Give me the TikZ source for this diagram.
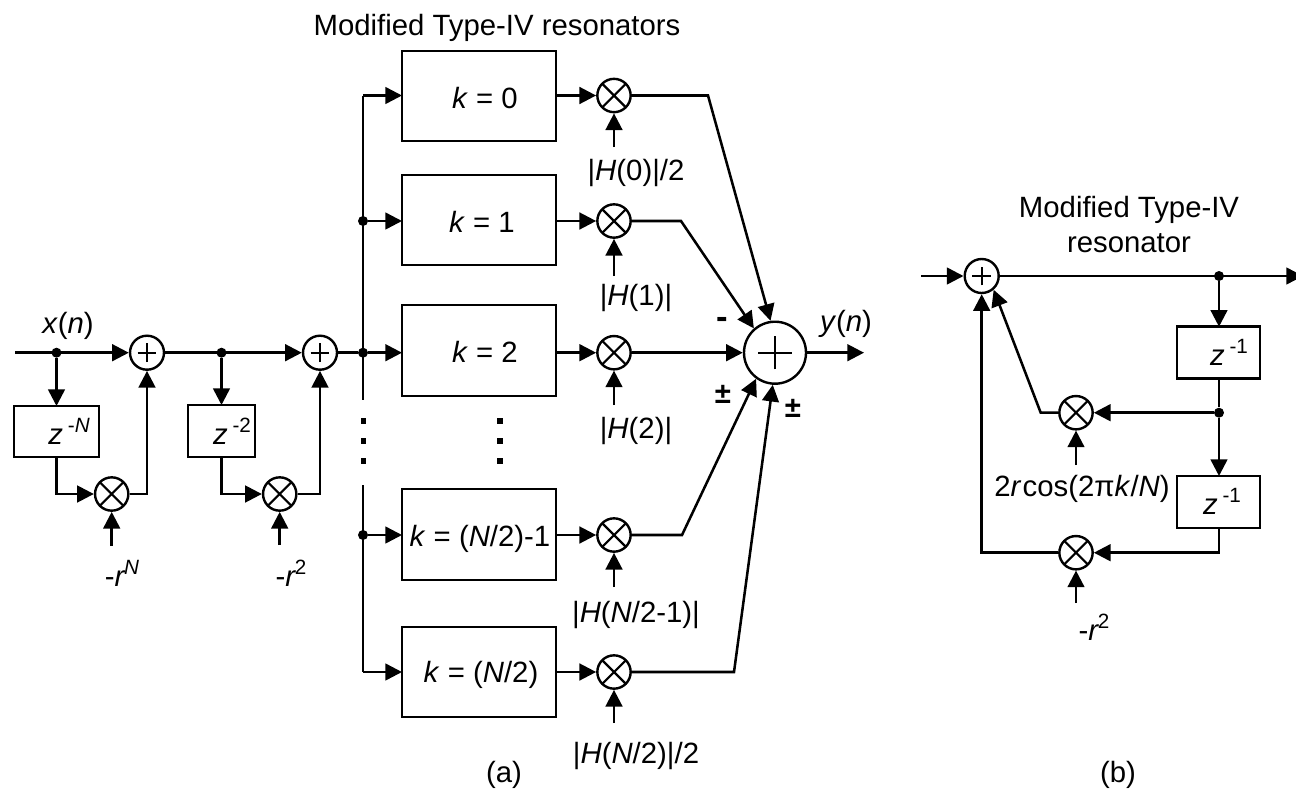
\documentclass[tikz,border=0pt]{standalone}
\usepackage{fontspec}
\setmainfont{Liberation Sans}
\usetikzlibrary{arrows.meta,calc}
\newcommand{\sups}[1]{\raisebox{8.6pt}{\fontsize{15.5}{16}\selectfont #1}}
\newcommand{\itt}[1]{\textit{#1}}
\tikzset{
  line/.style={line width=1.9pt,line join=miter},
  arr/.style={line,-{Triangle[length=12.5pt,width=12.5pt]}},
  blockbox/.style={draw,line width=1.85pt,rectangle,inner sep=0pt,outer sep=0pt},
  mult/.style={draw,line width=1.8pt,circle,minimum size=25pt,inner sep=0pt,
    path picture={\draw[line width=1.6pt]
      (path picture bounding box.south west)--(path picture bounding box.north east)
      (path picture bounding box.north west)--(path picture bounding box.south east);}},
  plusnode/.style={draw,line width=1.8pt,circle,minimum size=25.5pt,inner sep=0pt,
    path picture={\draw[line width=1.6pt]
      ([xshift=-7pt]path picture bounding box.center)--([xshift=7pt]path picture bounding box.center)
      ([yshift=-7pt]path picture bounding box.center)--([yshift=7pt]path picture bounding box.center);}},
  bigsum/.style={draw,line width=1.8pt,circle,minimum size=46.5pt,inner sep=0pt,
    path picture={\draw[line width=1.6pt]
      ([xshift=-12.5pt]path picture bounding box.center)--([xshift=12.5pt]path picture bounding box.center)
      ([yshift=-12.5pt]path picture bounding box.center)--([yshift=12.5pt]path picture bounding box.center);}},
  junction/.style={circle,fill=black,inner sep=0pt,minimum size=7.5pt},
  vdot/.style={rectangle,fill=black,inner sep=0pt,minimum size=3.8pt},
  txt/.style={anchor=base,inner sep=0pt,outer sep=0pt,font=\fontsize{22}{26}\selectfont},
}
\begin{document}
\begin{tikzpicture}[x=0.75pt,y=-0.75pt]
\clip (0,0) rectangle (1296,789);
\useasboundingbox (0,0) rectangle (1296,789);

% ---------- panel (a): input chain ----------
\coordinate (in) at (15,352.7);
\node[plusnode] (p1) at (147,352.7) {};
\node[plusnode] (p2) at (320,352.7) {};
\node[junction] (d1) at (56.5,352.7) {};
\node[junction] (d2) at (221.5,352.7) {};
\node[blockbox,minimum width=63.75pt,minimum height=38.25pt] (zn) at (56.5,431.5) {};
\node[blockbox,minimum width=50.25pt,minimum height=39pt] (z2) at (221.5,431) {};
\node[mult] (m1) at (111.7,494) {};
\node[mult] (m2) at (279.7,494) {};
\coordinate (u1) at (111.7,546);
\coordinate (u2) at (279.7,545);

% bus
\coordinate (bt) at (363,95.5);
\coordinate (bg1) at (363,400);
\coordinate (bg2) at (363,485);
\coordinate (bb) at (363,672);
\node[junction] (j1) at (363,221) {};
\node[junction] (j2) at (363,352.7) {};
\node[junction] (j3) at (363,535) {};
\node[vdot] (v1) at (363.3,421) {};
\node[vdot] (v2) at (363.3,441) {};
\node[vdot] (v3) at (363.3,461) {};
\node[vdot] (w1) at (500,421) {};
\node[vdot] (w2) at (500,441) {};
\node[vdot] (w3) at (500,461) {};

% resonator boxes
\node[blockbox,minimum width=115.5pt,minimum height=67.5pt] (b0) at (479,96) {};
\node[blockbox,minimum width=115.5pt,minimum height=67.5pt] (b1) at (479,220.25) {};
\node[blockbox,minimum width=115.5pt,minimum height=68pt] (b2) at (479,350.4) {};
\node[blockbox,minimum width=115.5pt,minimum height=68.25pt] (b3) at (479,534.5) {};
\node[blockbox,minimum width=115.5pt,minimum height=67.5pt] (b4) at (479,672) {};

% multipliers
\node[mult] (g0) at (614,95.5) {};
\node[mult] (g1) at (614,221) {};
\node[mult] (g2) at (614,352.7) {};
\node[mult] (g3) at (614,535) {};
\node[mult] (g4) at (614,672) {};
\coordinate (h0) at (614,147);
\coordinate (h1) at (614,276);
\coordinate (h2) at (614,405);
\coordinate (h3) at (614,587);
\coordinate (h4) at (614,723);

\node[bigsum] (s) at (775,352.7) {};
\coordinate (out) at (864,352.7);
\coordinate (c0) at (708,95.5);
\coordinate (c1) at (681,221);
\coordinate (c3) at (682,535);
\coordinate (c4) at (734,672);

% connectors (a)
\draw[arr] (in) -- (p1);
\draw[arr] (p1) -- (p2);
\draw[arr] (d1) -- (d1 |- zn.north);
\draw[arr] (d2) -- (d2 |- z2.north);
\draw[arr] (d1 |- zn.south) |- (m1.west);
\draw[arr] (d2 |- z2.south) |- (m2.west);
\draw[arr] (m1.east) -| (p1.south);
\draw[arr] (m2.east) -| (p2.south);
\draw[arr] (u1) -- (m1.south);
\draw[arr] (u2) -- (m2.south);
\draw[line] (p2.east) -- (j2);
\draw[line] (bt) -- (bg1);
\draw[line] (bg2) -- (bb);
\draw[arr] (bt) -- (bt -| b0.west);
\draw[arr] (j1) -- (j1 -| b1.west);
\draw[arr] (j2) -- (j2 -| b2.west);
\draw[arr] (j3) -- (j3 -| b3.west);
\draw[arr] (bb) -- (bb -| b4.west);
\draw[arr] (g0 -| b0.east) -- (g0.west);
\draw[arr] (g1 -| b1.east) -- (g1.west);
\draw[arr] (g2 -| b2.east) -- (g2.west);
\draw[arr] (g3 -| b3.east) -- (g3.west);
\draw[arr] (g4 -| b4.east) -- (g4.west);
\draw[arr] (h0) -- (g0.south);
\draw[arr] (h1) -- (g1.south);
\draw[arr] (h2) -- (g2.south);
\draw[arr] (h3) -- (g3.south);
\draw[arr] (h4) -- (g4.south);
\draw[arr] (g0.east) -- (c0) -- (s.98);
\draw[arr] (g1.east) -- (c1) -- (s.131);
\draw[arr] (g2.east) -- (s.west);
\draw[arr] (g3.east) -- (c3) -- (s.234);
\draw[arr] (g4.east) -- (c4) -- (s.266);
\draw[arr] (s.east) -- (out);

% labels (a)
\node[txt] (t0) at (497,35) {Modified Type-IV resonators};
\node[txt] (tx) at (68,333) {\itt{x}(\itt{n})};
\node[txt] (ty) at (846,331) {\itt{y}(\itt{n})};
\node[txt] (tzn) at (69,444) {\itt{z}\,\sups{-\itt{N}}};
\node[txt] (tz2) at (232,444) {\itt{z}\,\sups{-2}};
\node[txt] (tm1) at (122,586) {-\itt{r}\kern-1pt\sups{\itt{N}}};
\node[txt] (tm2) at (291,586) {-\itt{r}\kern-1pt\sups{2}};
\node[txt] (k0) at (485,108) {\itt{k} = 0};
\node[txt] (k1) at (482,232) {\itt{k} = 1};
\node[txt] (k2) at (485,362) {\itt{k} = 2};
\node[txt] (k3) at (480,546) {\itt{k} = (\itt{N}/2)-1};
\node[txt] (k4) at (481,682) {\itt{k} = (\itt{N}/2)};
\node[txt] (l0) at (636,180) {|\itt{H}(0)|/2};
\node[txt] (l1) at (636,305) {|\itt{H}(1)|};
\node[txt] (l2) at (636,438) {|\itt{H}(2)|};
\node[txt] (l3) at (636,622) {|\itt{H}(\itt{N}/2-1)|};
\node[txt] (l4) at (636,763) {|\itt{H}(\itt{N}/2)|/2};
\node[txt,font=\fontsize{26}{28}\selectfont] (sa) at (722,328) {\textbf{-}};
\node[txt] (sb) at (723,403) {\textbf{±}};
\node[txt] (sc) at (793,417) {\textbf{±}};
\node[txt] (ca) at (504,782) {(a)};

% ---------- panel (b) ----------
\coordinate (bin) at (921,276);
\coordinate (bout) at (1303,276);
\node[plusnode] (pb) at (981.7,276) {};
\node[junction] (db1) at (1219,276) {};
\node[junction] (db2) at (1219,412.7) {};
\node[blockbox,minimum width=62.25pt,minimum height=39pt] (zb1) at (1218.6,352.7) {};
\node[blockbox,minimum width=62.25pt,minimum height=39pt] (zb2) at (1218.6,502) {};
\node[mult] (mb1) at (1076,412.7) {};
\node[mult] (mb2) at (1076,552.7) {};
\coordinate (bb1) at (1040.7,412.7);
\coordinate (ub1) at (1076,465);
\coordinate (ub2) at (1076,603);

\draw[arr] (bin) -- (pb);
\draw[arr] (pb.east) -- (bout);
\draw[arr] (db1) -- (db1 |- zb1.north);
\draw[line] (db1 |- zb1.south) -- (db2);
\draw[arr] (db2) -- (db2 |- zb2.north);
\draw[arr] (db2) -- (mb1.east);
\draw[arr] (db2 |- zb2.south) |- (mb2.east);
\draw[arr] (mb2.west) -| (pb.south);
\draw[arr] (mb1.west) -- (bb1) -- (pb.-49);
\draw[arr] (ub1) -- (mb1.south);
\draw[arr] (ub2) -- (mb2.south);

\node[txt] (tb1) at (1129,217) {Modified Type-IV};
\node[txt] (tb2) at (1129,252.7) {resonator};
\node[txt] (tz1) at (1229,365) {\itt{z}\,\sups{-1}};
\node[txt] (tz3) at (1222,514) {\itt{z}\,\sups{-1}};
\node[txt] (tc) at (1082,496) {2\itt{r}\kern1pt cos(2π\itt{k}/\itt{N})};
\node[txt] (tr) at (1094,640) {-\itt{r}\kern-1pt\sups{2}};
\node[txt] (cb) at (1118,782) {(b)};
\end{tikzpicture}
\end{document}
